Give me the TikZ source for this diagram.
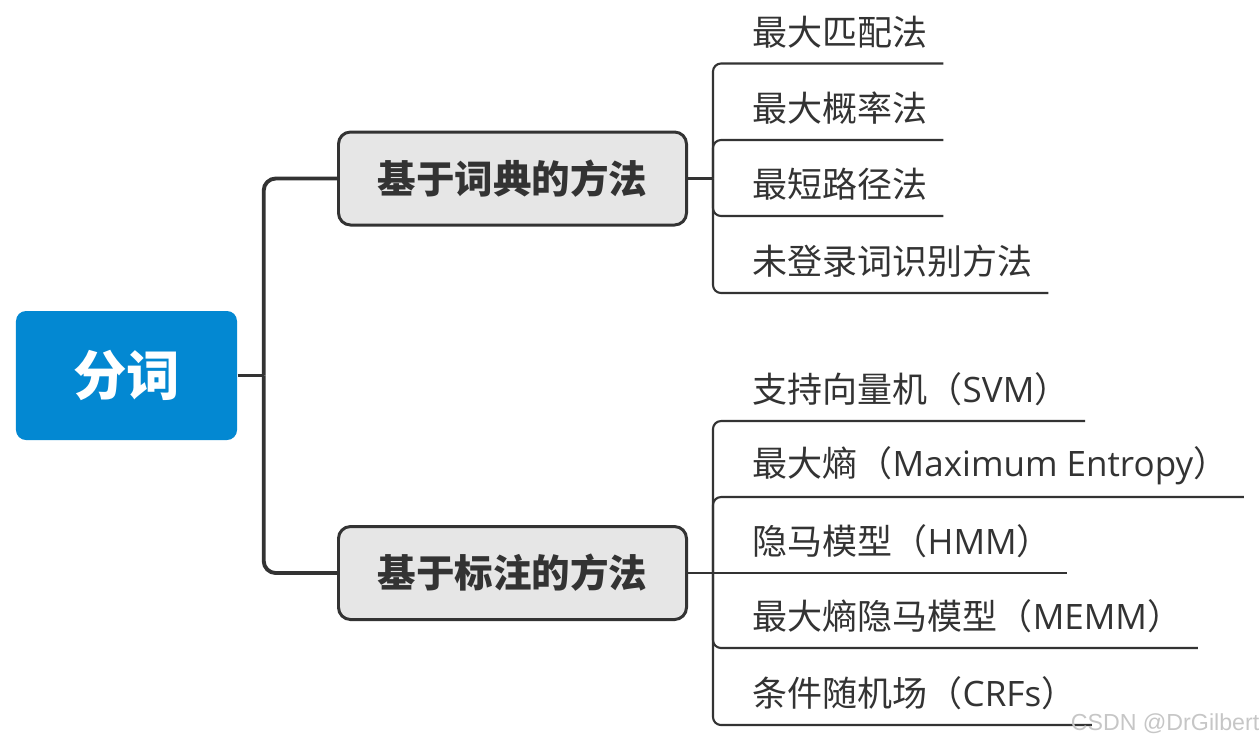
\documentclass[tikz,border=0pt]{standalone}
\usepackage{fontspec}
\usepackage{xcolor}
\usepackage{tikz}
\setmainfont{Noto Sans CJK SC}
\newfontfamily\markfont{Liberation Sans}
\newfontfamily\latfont{Open Sans}
\newcommand\lat[1]{{\latfont #1}}
\definecolor{rootblue}{HTML}{0388D2}
\definecolor{boxgray}{HTML}{E6E6E6}
\definecolor{inkgray}{HTML}{333333}

\begin{document}
\begin{tikzpicture}[
    root/.style={rectangle, rounded corners=0.1cm, fill=rootblue, text=white, minimum width=2.21cm, minimum height=1.29cm, font=\fontsize{15.2pt}{18pt}\selectfont\bfseries},
    branch/.style={rectangle, rounded corners=0.12cm, draw=inkgray, fill=boxgray, line width=0.85pt, minimum width=3.48cm, minimum height=0.93cm, text=inkgray, font=\fontsize{10.96pt}{13pt}\selectfont\bfseries},
    leaf/.style={anchor=south west, inner xsep=0.15cm, inner ysep=0pt, minimum width=2.05cm, minimum height=0.62cm, text=inkgray, font=\fontsize{9.96pt}{12pt}\selectfont},
    trunk/.style={draw=inkgray, line width=1.1pt, rounded corners=0.12cm},
    twig/.style={draw=inkgray, line width=0.6pt, rounded corners=0.08cm},
    stamp/.style={inner sep=0pt, text=gray!45, font=\markfont\fontsize{6.6pt}{8pt}\selectfont}
]
    \useasboundingbox (0,0) rectangle (12.59,-7.49);

    % Root
    \node[root] (root) at (1.265,-3.755) {分词};

    % Branches
    \node[branch] (dict) at (5.125,-1.785) {基于词典的方法};
    \node[branch] (anno) at (5.125,-5.73) {基于标注的方法};

    % Dictionary methods
    \node[leaf] (d1) at (7.37,-0.635) {最大匹配法};
    \node[leaf] (d2) at (7.37,-1.40) {最大概率法};
    \node[leaf] (d3) at (7.37,-2.16) {最短路径法};
    \node[leaf] (d4) at (7.37,-2.93) {未登录词识别方法};

    % Labelling methods
    \node[leaf] (t1) at (7.37,-4.21) {支持向量机（\lat{SVM}）};
    \node[leaf] (t2) at (7.37,-4.97) {最大熵（\lat{Maximum Entropy}）};
    \node[leaf] (t3) at (7.37,-5.73) {隐马模型（\lat{HMM}）};
    \node[leaf] (t4) at (7.37,-6.48) {最大熵隐马模型（\lat{MEMM}）};
    \node[leaf] (t5) at (7.37,-7.25) {条件随机场（\lat{CRFs}）};

    % Connectors
    \draw[trunk] (root.east) -- ++(0.26,0) coordinate (rj);
    \foreach \br in {dict,anno}
        \draw[trunk] (rj) |- (\br.west);
    \draw[twig] (dict.east) -- ++(0.25,0) coordinate (dj);
    \foreach \lf in {d1,d2,d3,d4}
        \draw[twig] (dj) |- (\lf.south east);
    \draw[twig] (anno.east) -- ++(0.25,0) coordinate (aj);
    \foreach \lf in {t1,t2,t4,t5}
        \draw[twig] (aj) |- (\lf.south east);
    \draw[twig] (aj) -- (t3.south east);

    \node[stamp, anchor=east] (wm) at (12.6,-7.235) {CSDN @DrGilbert};
\end{tikzpicture}
\end{document}
